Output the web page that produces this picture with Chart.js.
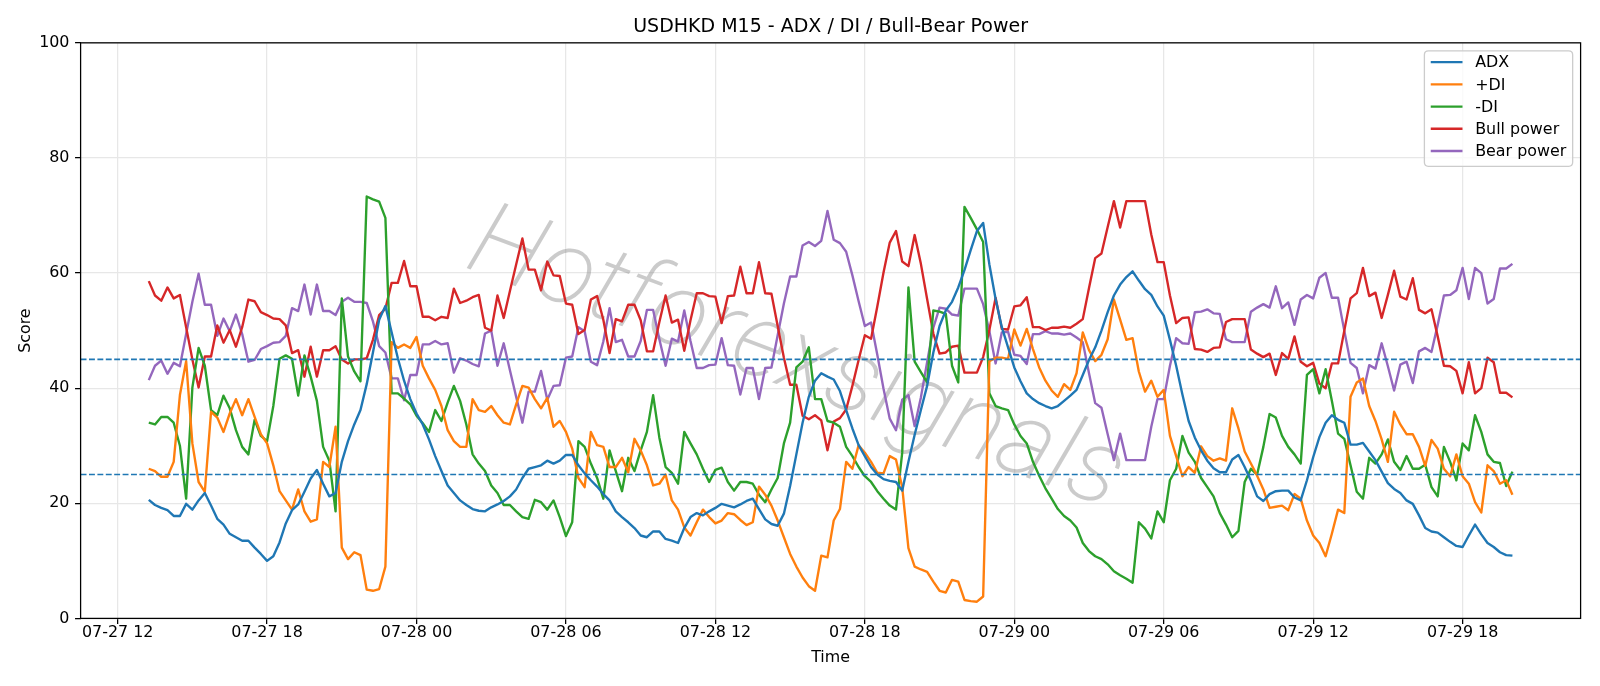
<!DOCTYPE html>
<html><head><meta charset="utf-8">
<script src="https://cdn.jsdelivr.net/npm/chart.js@4.4.1/dist/chart.umd.min.js"></script>
<style>html,body{margin:0;padding:0;background:#fff;}#wrap{width:1600px;height:686px;}</style>
</head><body><div id="wrap"><canvas id="c" width="1600" height="686"></canvas></div>
<script>
// time: hours since 07-27 00:00, first bar 07-27 13:15, 15-minute bars
const startHour = 13.25;
const stepHours = 0.25;
const xTickHours = [12, 18, 24, 30, 36, 42, 48, 54, 60, 66];
const yTickValues = [0, 20, 40, 60, 80, 100];
const thresholds = [45, 25];
const seriesNames = ['ADX', '+DI', '-DI', 'Bull power', 'Bear power'];
const watermarkText = 'Hotforexsignals';

const adx = [
20.6,19.7,19.2,18.8,17.8,17.8,19.9,18.9,20.5,21.8,19.6,17.3,16.3,14.7,14.1,13.5,13.5,12.3,
11.2,10.0,10.8,13.2,16.5,18.8,19.8,22.0,24.3,25.8,23.4,21.2,21.8,27.2,30.8,33.7,36.2,40.7,
46.2,51.9,54.3,49.7,45.2,41.3,38.1,35.6,33.7,31.1,28.2,25.6,23.1,21.8,20.5,19.7,19.0,18.7,18.6,
19.3,19.8,20.4,21.2,22.4,24.4,26.0,26.3,26.6,27.4,26.9,27.4,28.4,28.4,26.6,25.2,24.0,22.9,
21.6,20.5,18.6,17.6,16.7,15.7,14.4,14.1,15.1,15.1,13.8,13.5,13.1,15.7,17.6,18.3,17.9,18.6,19.2,
19.9,19.6,19.3,19.8,20.4,20.8,19.0,17.2,16.4,16.1,18.2,23.0,28.5,34.0,38.5,41.3,42.6,42.0,
41.5,39.5,36.2,33.0,30.1,28.2,26.3,25.0,24.2,23.9,23.7,22.2,27.2,31.9,36.2,40.4,46.2,50.8,53.5,
55.0,57.5,60.5,64.0,67.3,68.7,61.5,55.5,50.6,47.1,43.6,41.2,39.1,38.1,37.4,36.9,36.5,36.9,37.8,
38.7,39.7,42.3,44.9,47.1,50.0,53.2,56.1,58.0,59.3,60.3,58.7,57.2,56.2,54.2,52.6,48.4,43.9,
38.9,34.3,31.4,29.2,27.4,26.1,25.4,25.4,27.6,28.4,26.3,23.9,21.2,20.4,21.6,22.1,22.2,22.2,21.0,
20.5,24.0,28.0,31.5,34.0,35.3,34.5,34.0,30.2,30.2,30.5,29.0,27.5,25.5,23.5,22.5,21.8,20.5,
19.9,17.9,15.7,15.1,14.9,14.1,13.3,12.6,12.4,14.4,16.3,14.6,13.1,12.4,11.5,11.0,10.9
];
const plusDI = [
26.0,25.6,24.6,24.6,27.2,38.8,44.7,30.4,23.7,22.0,35.9,34.9,32.4,35.6,38.1,35.3,38.1,35.0,
32.0,30.4,26.6,22.1,20.5,18.9,22.4,18.6,16.8,17.2,27.2,26.3,33.3,12.3,10.3,11.5,11.0,5.0,
4.8,5.1,9.0,48.0,47.0,47.6,47.0,48.9,43.9,41.7,39.7,36.9,32.7,30.8,29.8,29.8,38.1,36.2,35.9,
36.9,35.3,34.0,33.7,37.2,40.4,40.1,38.1,36.5,38.3,33.3,34.3,32.4,29.5,24.4,22.8,32.4,30.1,
29.8,26.3,26.3,27.9,25.4,31.2,29.2,26.6,23.1,23.4,25.0,20.5,18.9,15.8,14.4,16.7,18.9,17.6,16.5,
17.0,18.3,18.1,17.1,16.2,16.7,22.9,21.5,19.6,17.0,14.1,11.2,9.0,7.1,5.6,4.8,10.9,10.6,
17.0,19.0,27.2,26.0,30.1,28.8,27.2,25.3,25.2,28.2,27.6,22.8,12.2,9.0,8.5,8.1,6.4,4.8,4.5,
6.7,6.4,3.2,3.0,2.9,3.8,44.7,45.3,45.3,45.1,50.2,47.4,50.3,46.8,43.6,41.3,39.6,38.5,40.7,
39.7,42.6,49.7,46.6,44.7,45.8,48.5,55.4,51.9,48.4,48.7,42.9,39.4,41.3,38.5,39.7,31.7,28.2,
24.7,26.3,25.3,29.9,28.2,27.4,27.8,27.4,36.5,33.0,29.0,26.9,24.8,22.4,19.2,19.4,19.6,18.8,21.6,
20.8,17.0,14.4,13.1,10.8,14.7,18.9,18.3,38.5,41.0,41.7,36.9,34.3,31.1,27.2,35.9,33.7,32.0,
32.0,29.8,26.5,31.0,29.5,26.0,24.7,28.5,24.7,23.4,20.2,18.4,26.6,25.6,23.4,24.0,21.5
];
const minusDI = [
34.0,33.7,35.0,35.0,34.0,30.0,20.8,40.1,47.0,43.9,36.2,35.3,38.7,36.5,32.7,29.8,28.5,34.5,
31.7,30.8,36.9,45.1,45.7,45.1,38.7,45.7,42.0,37.8,29.8,27.4,18.6,55.6,45.5,42.9,41.2,73.3,
72.8,72.4,69.6,39.1,39.1,38.2,37.2,35.2,33.9,32.4,36.2,34.3,37.5,40.4,37.8,33.7,28.5,26.9,25.6,
23.1,21.8,19.7,19.7,18.6,17.6,17.3,20.6,20.2,18.9,20.5,17.6,14.3,16.7,30.8,29.8,26.9,24.4,
20.8,29.2,25.6,22.1,27.9,25.6,29.2,32.4,38.8,31.4,26.3,25.3,23.4,32.4,30.4,28.5,26.0,23.7,25.8,
26.2,23.7,22.2,23.7,23.7,23.4,21.5,20.2,22.4,24.4,30.4,34.0,43.6,44.6,47.1,38.1,38.1,34.3,
34.0,33.3,29.8,28.2,26.3,24.7,23.7,22.1,20.8,19.6,18.9,28.8,57.5,44.6,42.8,41.0,53.5,53.3,52.9,
43.9,41.0,71.5,69.6,67.6,65.4,39.1,36.9,36.5,36.2,33.7,31.7,30.4,27.2,24.8,22.6,20.8,19.0,17.8,
17.0,15.8,13.1,11.7,10.8,10.3,9.4,8.2,7.5,6.9,6.2,16.7,15.6,13.9,18.6,16.7,24.0,26.0,
31.7,28.8,27.2,24.4,22.8,21.2,18.3,16.3,14.1,15.2,23.7,26.0,25.0,29.8,35.5,34.9,31.7,29.8,28.5,
26.9,42.3,43.3,39.1,43.3,37.8,32.1,31.2,26.6,22.0,20.8,27.9,26.9,28.5,31.1,27.2,25.8,28.2,
26.0,26.0,26.7,22.8,21.2,29.8,27.2,24.0,30.4,29.2,35.3,32.4,28.5,27.2,27.0,23.0,25.5
];
const bullPower = [
58.6,56.1,55.2,57.5,55.6,56.2,50.6,45.0,40.1,45.5,45.5,50.9,47.9,50.1,47.2,50.6,55.4,55.1,
53.2,52.7,52.1,52.0,50.9,46.1,46.6,42.0,47.2,42.0,46.6,46.6,47.3,45.0,44.3,45.0,45.0,45.2,
48.4,52.7,53.8,58.3,58.3,62.1,57.7,57.7,52.4,52.4,51.8,52.4,52.2,57.3,54.8,55.2,55.8,56.2,50.5,
50.0,56.1,52.2,56.9,61.5,66.0,60.6,60.6,57.0,62.0,59.6,59.5,54.7,54.5,49.4,50.1,55.4,56.0,
51.9,46.1,52.0,51.6,54.5,54.5,51.8,46.4,46.4,51.5,56.1,51.4,51.9,46.5,51.8,56.5,56.5,56.0,55.9,
51.3,56.0,56.1,61.1,56.5,56.5,61.9,56.5,56.4,50.8,45.3,40.6,40.6,35.2,34.6,35.3,34.4,29.2,
34.2,34.8,36.3,40.4,44.9,49.2,48.6,54.2,60.1,65.3,67.3,62.0,61.2,66.6,61.6,55.5,49.5,46.0,46.2,
47.2,47.4,42.7,42.7,42.7,45.4,50.1,55.7,50.3,50.2,54.2,54.4,55.8,50.6,50.6,50.1,50.5,50.5,50.7,
50.5,51.2,52.0,57.4,62.6,63.4,68.0,72.5,67.9,72.5,72.5,72.5,72.5,66.7,61.9,61.9,56.1,51.3,
52.2,52.3,46.8,46.7,46.3,47.0,47.1,51.5,52.0,52.0,52.0,46.7,46.0,45.4,46.0,42.3,46.1,45.1,49.0,
44.6,43.8,44.4,40.8,40.0,44.3,44.3,50.0,55.6,56.5,60.9,56.0,56.6,52.2,56.2,60.4,55.9,55.4,
59.1,53.6,53.0,53.7,49.0,43.9,43.8,43.0,39.1,44.5,39.1,40.0,45.3,44.5,39.2,39.2,38.4
];
const bearPower = [
41.4,43.9,44.8,42.5,44.4,43.8,49.4,55.0,59.9,54.5,54.5,49.1,52.1,49.9,52.8,49.4,44.6,44.9,
46.8,47.3,47.9,48.0,49.1,53.9,53.4,58.0,52.8,58.0,53.4,53.4,52.7,55.0,55.7,55.0,55.0,54.8,
51.6,47.3,46.2,41.7,41.7,37.9,42.3,42.3,47.6,47.6,48.2,47.6,47.8,42.7,45.2,44.8,44.2,43.8,49.5,
50.0,43.9,47.8,43.1,38.5,34.0,39.4,39.4,43.0,38.0,40.4,40.5,45.3,45.5,50.6,49.9,44.6,44.0,
48.1,53.9,48.0,48.4,45.5,45.5,48.2,53.6,53.6,48.5,43.9,48.6,48.1,53.5,48.2,43.5,43.5,44.0,44.1,
48.7,44.0,43.9,38.9,43.5,43.5,38.1,43.5,43.6,49.2,54.7,59.4,59.4,64.8,65.4,64.7,65.6,70.8,
65.8,65.2,63.7,59.6,55.1,50.8,51.4,45.8,39.9,34.7,32.7,38.0,38.8,33.4,38.4,44.5,50.5,54.0,53.8,
52.8,52.6,57.3,57.3,57.3,54.6,49.9,44.3,49.7,49.8,45.8,45.6,44.2,49.4,49.4,49.9,49.5,49.5,49.3,
49.5,48.8,48.0,42.6,37.4,36.6,32.0,27.5,32.1,27.5,27.5,27.5,27.5,33.3,38.1,38.1,43.9,48.7,
47.8,47.7,53.2,53.3,53.7,53.0,52.9,48.5,48.0,48.0,48.0,53.3,54.0,54.6,54.0,57.7,53.9,54.9,51.0,
55.4,56.2,55.6,59.2,60.0,55.7,55.7,50.0,44.4,43.5,39.1,44.0,43.4,47.8,43.8,39.6,44.1,44.6,
40.9,46.4,47.0,46.3,51.0,56.1,56.2,57.0,60.9,55.5,60.9,60.0,54.7,55.5,60.8,60.8,61.6
];
const seriesColors = ['#1f77b4', '#ff7f0e', '#2ca02c', '#d62728', '#9467bd'];

function toPoints(arr){ return arr.map((v, i) => ({x: startHour + stepHours * i, y: v})); }
function fmtHour(h){
  const day = 27 + Math.floor(h / 24);
  const hh = h % 24;
  return '07-' + day + ' ' + String(hh).padStart(2, '0');
}

const FONT = "'DejaVu Sans', sans-serif";
Chart.defaults.font.family = FONT;
Chart.defaults.color = '#000';

const decor = {
  id: 'decor',
  beforeDatasetsDraw(chart){
    const {ctx} = chart;
    ctx.save();
    ctx.translate(795, 363);
    ctx.rotate(20.5 * Math.PI / 180);
    let size = 90;
    ctx.font = 'italic 200 ' + size + 'px Roboto, Lato, Inter, sans-serif';
    const w = ctx.measureText(watermarkText).width;
    size = size * 690 / w;
    ctx.font = 'italic 200 ' + size.toFixed(1) + 'px Roboto, Lato, Inter, sans-serif';
    ctx.fillStyle = 'rgba(140,140,140,0.45)';
    ctx.textAlign = 'center'; ctx.textBaseline = 'middle';
    ctx.fillText(watermarkText, 0, 0);
    ctx.restore();
  },
  afterDatasetsDraw(chart){
    const {ctx, chartArea: a, scales: {y}} = chart;
    ctx.save();
    ctx.strokeStyle = '#1f77b4'; ctx.lineWidth = 1.6; ctx.setLineDash([5.9, 2.5]);
    thresholds.forEach(v => {
      const py = y.getPixelForValue(v);
      ctx.beginPath(); ctx.moveTo(a.left, py); ctx.lineTo(a.right, py); ctx.stroke();
    });
    ctx.setLineDash([]);
    ctx.strokeStyle = '#000'; ctx.lineWidth = 1.27;
    ctx.strokeRect(a.left, a.top, a.right - a.left, a.bottom - a.top);
    ctx.restore();
  },
  afterDraw(chart){
    const {ctx, chartArea: a} = chart;
    const fs = 15.9;
    ctx.save();
    ctx.font = fs + 'px ' + FONT;
    const ds = chart.data.datasets;
    const textW = Math.max(...ds.map(d => ctx.measureText(d.label).width));
    const pad = 6.35, hl = 31.75, htp = 12.7, rowH = 22.2;
    const w = pad + hl + htp + textW + pad;
    const right = a.right - 7.94, top = a.top + 7.94;
    const left = right - w, h = 115.5;
    const r = 4;
    ctx.beginPath();
    ctx.moveTo(left + r, top); ctx.lineTo(right - r, top); ctx.quadraticCurveTo(right, top, right, top + r);
    ctx.lineTo(right, top + h - r); ctx.quadraticCurveTo(right, top + h, right - r, top + h);
    ctx.lineTo(left + r, top + h); ctx.quadraticCurveTo(left, top + h, left, top + h - r);
    ctx.lineTo(left, top + r); ctx.quadraticCurveTo(left, top, left + r, top);
    ctx.closePath();
    ctx.fillStyle = 'rgba(255,255,255,0.8)'; ctx.fill();
    ctx.strokeStyle = '#cccccc'; ctx.lineWidth = 1.3; ctx.stroke();
    ds.forEach((d, k) => {
      const cy = top + 11.4 + rowH * k;
      ctx.strokeStyle = d.borderColor; ctx.lineWidth = 2.38;
      ctx.beginPath(); ctx.moveTo(left + pad, cy); ctx.lineTo(left + pad + hl, cy); ctx.stroke();
      ctx.fillStyle = '#000'; ctx.textBaseline = 'middle'; ctx.textAlign = 'left';
      ctx.fillText(d.label, left + pad + hl + htp, cy + 1);
    });
    ctx.restore();
  }
};

const allSeries = [adx, plusDI, minusDI, bullPower, bearPower];
new Chart(document.getElementById('c'), {
  type: 'line',
  data: {
    datasets: allSeries.map((arr, k) => ({
      label: seriesNames[k], data: toPoints(arr), borderColor: seriesColors[k],
      backgroundColor: seriesColors[k], borderWidth: 2.38, pointRadius: 0, tension: 0,
      borderJoinStyle: 'round', fill: false
    }))
  },
  options: {
    responsive: false, animation: false, devicePixelRatio: 1,
    layout: {padding: {left: 0, right: 19.4, top: 0, bottom: 0}},
    plugins: {
      legend: {display: false}, tooltip: {enabled: false},
      title: {display: true, text: 'USDHKD M15 - ADX / DI / Bull-Bear Power', fullSize: false,
        color: '#000', font: {size: 19, weight: 'normal', family: FONT}, padding: {top: 15.4, bottom: 4.64}}
    },
    scales: {
      x: {
        type: 'linear', min: 10.5125, max: 70.7375,
        afterBuildTicks: s => { s.ticks = xTickHours.map(v => ({value: v})); },
        afterFit: s => { s.height = 67.6; },
        ticks: {callback: v => fmtHour(v), font: {size: 15.9}, color: '#000', padding: -1, maxRotation: 0, autoSkip: false},
        grid: {color: '#e7e7e7', lineWidth: 1.27, tickColor: '#000', tickLength: 5.56, tickWidth: 1.27},
        border: {display: false},
        title: {display: true, text: 'Time', font: {size: 15.9}, color: '#000', padding: {top: 0, bottom: 18.5}}
      },
      y: {
        min: 0, max: 100,
        afterBuildTicks: s => { s.ticks = yTickValues.map(v => ({value: v})); },
        afterFit: s => { s.width = 80.6; },
        ticks: {font: {size: 15.9}, color: '#000', padding: 5.56},
        grid: {color: '#e7e7e7', lineWidth: 1.27, tickColor: '#000', tickLength: 5.56, tickWidth: 1.27},
        border: {display: false},
        title: {display: true, text: 'Score', font: {size: 15.9}, color: '#000', padding: {top: 16, bottom: 0}}
      }
    }
  },
  plugins: [decor]
});
</script></body></html>
